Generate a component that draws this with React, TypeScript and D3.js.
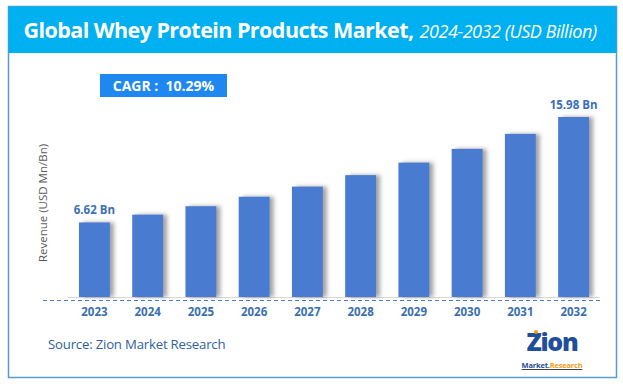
import { useEffect, useRef } from 'react';
import * as d3 from 'd3';

const years = ['2023', '2024', '2025', '2026', '2027', '2028', '2029', '2030', '2031', '2032'];
const revenue = [6.62, 7.31, 8.06, 8.9, 9.8, 10.82, 11.93, 13.15, 14.48, 15.98];
const labelled = ['2023', '2032'];
const cagrText = 'CAGR :  10.29%';

export default function App() {
  const svgRef = useRef<SVGSVGElement>(null);

  useEffect(() => {
    if (!svgRef.current) return;
    const width = 623;
    const height = 388;
    const baseY = 297;

    d3.select(svgRef.current).selectAll('*').remove();
    const svg = d3.select(svgRef.current).attr('width', width).attr('height', height);

    const defs = svg.append('defs');
    const f = defs
      .append('filter')
      .attr('id', 'shadow')
      .attr('x', '-20%')
      .attr('y', '-10%')
      .attr('width', '160%')
      .attr('height', '120%');
    f.append('feDropShadow')
      .attr('dx', 4)
      .attr('dy', 0)
      .attr('stdDeviation', 2)
      .attr('flood-color', '#555')
      .attr('flood-opacity', 0.55);

    // Frame and title band
    svg
      .append('rect')
      .attr('x', 8.5)
      .attr('y', 6.5)
      .attr('width', 608)
      .attr('height', 371)
      .attr('fill', '#fff')
      .attr('stroke', '#5b9bd5')
      .attr('stroke-width', 1.5);
    svg
      .append('rect')
      .attr('x', 8.5)
      .attr('y', 6.5)
      .attr('width', 608)
      .attr('height', 46.5)
      .attr('fill', '#00b0f0');

    const title = svg
      .append('text')
      .attr('x', 310)
      .attr('y', 38)
      .attr('text-anchor', 'middle')
      .attr('fill', '#fff')
      .attr('font-family', '"Open Sans", sans-serif');
    title
      .append('tspan')
      .attr('font-size', '21.5px')
      .attr('font-weight', 700)
      .attr('letter-spacing', '-0.55')
      .text('Global Whey Protein Products Market,');
    title
      .append('tspan')
      .attr('font-size', '18px')
      .attr('font-style', 'italic')
      .attr('dx', 6)
      .attr('letter-spacing', '-0.45')
      .text('2024-2032 (USD Billion)');

    // CAGR badge
    svg
      .append('rect')
      .attr('x', 100)
      .attr('y', 74)
      .attr('width', 127)
      .attr('height', 23)
      .attr('fill', '#1e88f0');
    svg
      .append('text')
      .attr('x', 163.5)
      .attr('y', 91)
      .attr('text-anchor', 'middle')
      .attr('fill', '#fff')
      .attr('font-family', '"Open Sans", sans-serif')
      .attr('font-size', '14px')
      .attr('font-weight', 700)
      .style('white-space', 'pre')
      .text(cagrText);

    const x = d3.scaleBand().domain(years).range([63, 605]).paddingInner(0.42).paddingOuter(0.3);
    const y = d3.scaleLinear().domain([0, 15.98]).range([baseY, 117]);

    // Baselines
    svg
      .append('line')
      .attr('x1', 68)
      .attr('x2', 600)
      .attr('y1', baseY + 0.5)
      .attr('y2', baseY + 0.5)
      .attr('stroke', '#d9d9d9')
      .attr('stroke-width', 1);
    svg
      .append('line')
      .attr('x1', 43)
      .attr('x2', 600)
      .attr('y1', baseY + 3.5)
      .attr('y2', baseY + 3.5)
      .attr('stroke', '#4a7cc9')
      .attr('stroke-width', 1)
      .attr('stroke-dasharray', '4,3');

    // Bars
    svg
      .append('g')
      .selectAll('rect')
      .data(years)
      .join('rect')
      .attr('x', (d) => x(d) || 0)
      .attr('y', (_, i) => y(revenue[i]))
      .attr('width', x.bandwidth())
      .attr('height', (_, i) => baseY - y(revenue[i]))
      .attr('fill', '#4a7bd1')
      .attr('filter', 'url(#shadow)');

    // Value labels
    svg
      .append('g')
      .selectAll('text')
      .data(years.map((yr, i) => ({ yr, v: revenue[i] })).filter((d) => labelled.includes(d.yr)))
      .join('text')
      .attr('x', (d) => (x(d.yr) || 0) + x.bandwidth() / 2)
      .attr('y', (d) => y(d.v) - 8)
      .attr('text-anchor', 'middle')
      .attr('fill', '#3a6fb8')
      .attr('font-family', '"Open Sans", sans-serif')
      .attr('font-size', '11.5px')
      .attr('font-weight', 700)
      .text((d) => `${d.v.toFixed(2)} Bn`);

    // Year labels
    svg
      .append('g')
      .selectAll('text')
      .data(years)
      .join('text')
      .attr('x', (d) => (x(d) || 0) + x.bandwidth() / 2)
      .attr('y', 316)
      .attr('text-anchor', 'middle')
      .attr('fill', '#3a6fb0')
      .attr('font-family', '"Open Sans", sans-serif')
      .attr('font-size', '11.5px')
      .attr('font-weight', 700)
      .text((d) => d);

    // Y axis title
    svg
      .append('text')
      .attr('transform', 'translate(47, 203) rotate(-90)')
      .attr('text-anchor', 'middle')
      .attr('fill', '#595959')
      .attr('font-family', '"Open Sans", sans-serif')
      .attr('font-size', '11.5px')
      .text('Revenue (USD Mn/Bn)');

    // Source
    svg
      .append('text')
      .attr('x', 48)
      .attr('y', 349)
      .attr('fill', '#2f5f9e')
      .attr('font-family', '"Open Sans", sans-serif')
      .attr('font-size', '13.2px')
      .attr('letter-spacing', '-0.2')
      .text('Source: Zion Market Research');

    // Logo
    const logo = svg.append('g').attr('font-family', '"Open Sans", sans-serif');
    logo
      .append('text')
      .attr('x', 552)
      .attr('y', 351)
      .attr('text-anchor', 'middle')
      .attr('fill', '#1f4e9a')
      .attr('font-size', '25px')
      .attr('font-weight', 800)
      .attr('letter-spacing', '-1.3')
      .text('Zion');
    logo
      .append('circle')
      .attr('cx', 536)
      .attr('cy', 332)
      .attr('r', 2)
      .attr('fill', '#f39c12');
    const sub = logo
      .append('text')
      .attr('x', 552)
      .attr('y', 368)
      .attr('text-anchor', 'middle')
      .attr('font-size', '7.5px')
      .attr('font-weight', 700)
      .attr('text-decoration', 'underline')
      .attr('letter-spacing', '-0.2');
    sub.append('tspan').attr('fill', '#1f4e9a').text('Market.');
    sub.append('tspan').attr('fill', '#f39c12').text('Research');
  }, []);

  return <svg ref={svgRef} style={{ display: 'block', position: 'absolute', left: 0, top: 0 }} />;
}
